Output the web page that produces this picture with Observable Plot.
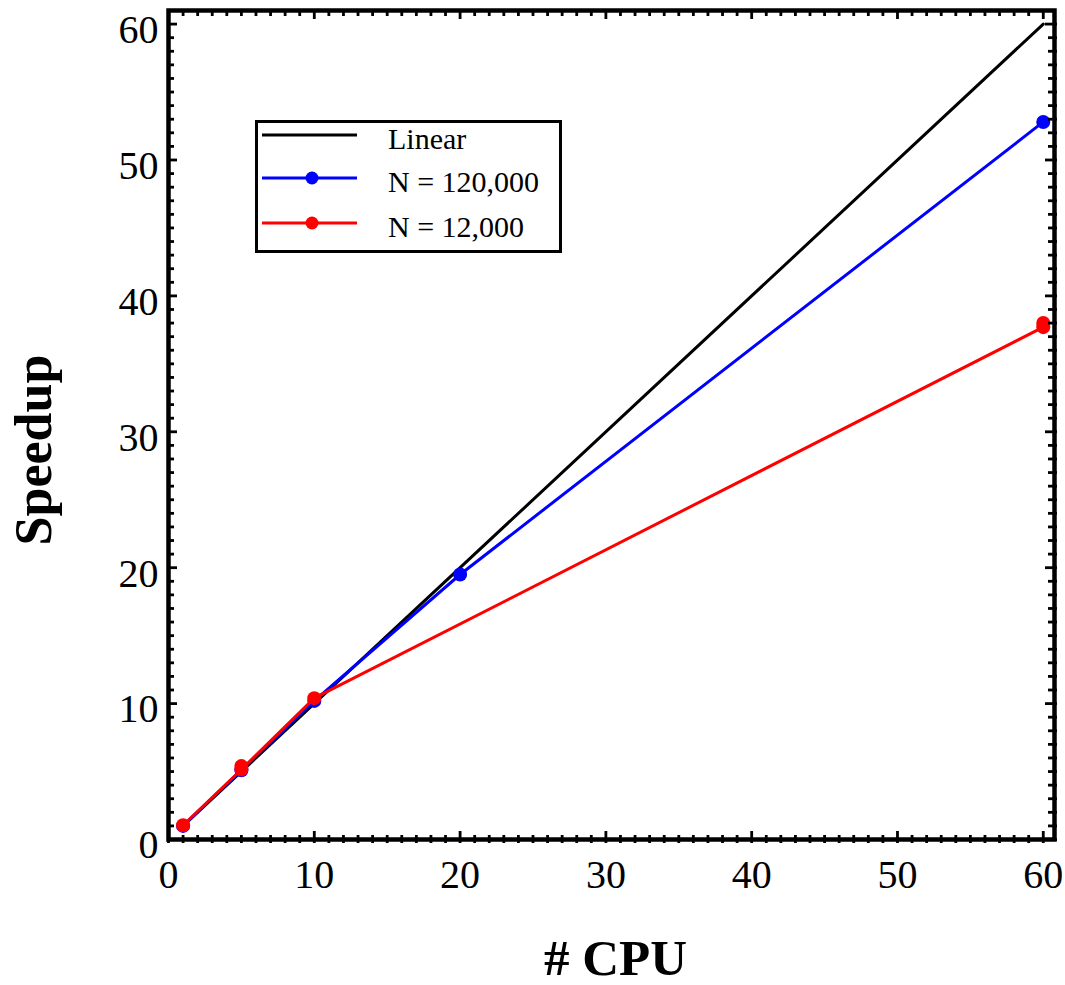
<!DOCTYPE html>
<html>
<head>
<meta charset="utf-8">
<script src="https://cdn.jsdelivr.net/npm/d3@7"></script>
<script src="https://cdn.jsdelivr.net/npm/@observablehq/plot@0.6"></script>
<style>
  html, body { margin: 0; padding: 0; background: #fff; }
  #wrap { position: relative; width: 1065px; height: 985px; }
  #legend { position: absolute; left: 0; top: 0; }
</style>
</head>
<body>
<div id="wrap"></div>
<script>
// ---- data ----
const linearCpu = [1, 60];
const linearSpeedup = [1, 60];

const cpu120k = [1, 5, 10, 20, 60];
const speedup120k = [1.0, 5.1, 10.2, 19.5, 52.8];

const cpu12k = [1, 5, 10, 60];
const speedup12k = [1.05, 5.15, 10.4, 37.7];

// repeated measurements visible as overlapping markers
const cpu12kRepeat = [5, 60];
const speedup12kRepeat = [5.4, 38.0];

const xMajorTicks = [0, 10, 20, 30, 40, 50, 60];
const yMajorTicks = [0, 10, 20, 30, 40, 50, 60];
const minorTicks = d3.range(1, 61).filter(v => v % 10 !== 0);

const legendLabels = ["Linear", "N = 120,000", "N = 12,000"];
const legendColors = ["#000000", "#0000ff", "#ff0000"];
const legendMarkers = [false, true, true];

const xTitle = "# CPU";
const yTitle = "Speedup";

// ---- tables ----
const toRows = (xs, ys) => xs.map((x, i) => ({x, y: ys[i]}));
const linearRows = toRows(linearCpu, linearSpeedup);
const rows120k = toRows(cpu120k, speedup120k);
const rows12k = toRows(cpu12k, speedup12k);
const rows12kRep = toRows(cpu12kRepeat, speedup12kRepeat);

const W = 1065, H = 985;
const mL = 168, mR = 11, mT = 10, mB = 146;
const innerW = W - mL - mR, innerH = H - mT - mB;
const font = "Liberation Serif, Times New Roman, serif";
const tickW = 2.8;

const plot = Plot.plot({
  width: W,
  height: H,
  marginLeft: mL,
  marginRight: mR,
  marginTop: mT,
  marginBottom: mB,
  style: {fontFamily: font, background: "#fff", color: "#000"},
  x: {domain: [0, 60.77], axis: null},
  y: {domain: [0, 61], axis: null},
  marks: [
    // axis tick labels
    Plot.axisX(xMajorTicks, {anchor: "bottom", tickSize: 0, tickPadding: 20, fontSize: 40, label: null, tickFormat: d => String(d)}),
    Plot.axisY(yMajorTicks, {anchor: "left", tickSize: 0, tickPadding: 10, fontSize: 40, label: null, dy: 6, tickFormat: d => String(d)}),
    // data lines
    Plot.line(linearRows, {x: "x", y: "y", stroke: legendColors[0], strokeWidth: 3}),
    Plot.line(rows120k, {x: "x", y: "y", stroke: legendColors[1], strokeWidth: 3}),
    Plot.dot(rows120k, {x: "x", y: "y", r: 7, fill: legendColors[1]}),
    Plot.line(rows12k, {x: "x", y: "y", stroke: legendColors[2], strokeWidth: 3}),
    Plot.dot(rows12k, {x: "x", y: "y", r: 7, fill: legendColors[2]}),
    Plot.dot(rows12kRep, {x: "x", y: "y", r: 7, fill: legendColors[2]}),
    // inward ticks: bottom
    Plot.tickX(minorTicks, {x: d => d, insetTop: innerH - 4, insetBottom: -4, stroke: "#000", strokeWidth: tickW}),
    Plot.tickX(xMajorTicks, {x: d => d, insetTop: innerH - 8, insetBottom: -4, stroke: "#000", strokeWidth: tickW}),
    // top
    Plot.tickX(minorTicks, {x: d => d, insetBottom: innerH - 6, stroke: "#000", strokeWidth: tickW}),
    Plot.tickX(xMajorTicks, {x: d => d, insetBottom: innerH - 9, stroke: "#000", strokeWidth: tickW}),
    // left
    Plot.tickY(minorTicks, {y: d => d, insetRight: innerW - 6, stroke: "#000", strokeWidth: tickW}),
    Plot.tickY(yMajorTicks, {y: d => d, insetRight: innerW - 9, stroke: "#000", strokeWidth: tickW}),
    // right
    Plot.tickY(minorTicks, {y: d => d, insetLeft: innerW - 6, insetRight: -3, stroke: "#000", strokeWidth: tickW}),
    Plot.tickY(yMajorTicks, {y: d => d, insetLeft: innerW - 9, insetRight: -3, stroke: "#000", strokeWidth: tickW}),
    // frame
    Plot.frame({stroke: "#000", strokeWidth: 4.5}),
    // titles
    Plot.text([xTitle], {frameAnchor: "bottom", lineAnchor: "bottom", textAnchor: "middle", dy: 135, dx: 4, fontSize: 51, fontWeight: "bold", fill: "#000"}),
    Plot.text([yTitle], {frameAnchor: "left", lineAnchor: "bottom", textAnchor: "middle", rotate: -90, dx: -118, dy: 25, fontSize: 52, fontWeight: "bold", fill: "#000"})
  ]
});

const wrap = document.getElementById("wrap");
wrap.appendChild(plot);

// ---- legend overlay ----
const lg = d3.select(wrap).append("svg")
  .attr("id", "legend")
  .attr("width", W).attr("height", H)
  .style("pointer-events", "none");

const box = {x: 256.5, y: 121.5, w: 304, h: 130};
lg.append("rect")
  .attr("x", box.x).attr("y", box.y)
  .attr("width", box.w).attr("height", box.h)
  .attr("fill", "#fff").attr("stroke", "#000").attr("stroke-width", 3);

const rowY = [135, 178, 223];
legendLabels.forEach((lab, i) => {
  const g = lg.append("g");
  g.append("line")
    .attr("x1", 262).attr("x2", 357)
    .attr("y1", rowY[i]).attr("y2", rowY[i])
    .attr("stroke", legendColors[i]).attr("stroke-width", 3);
  if (legendMarkers[i]) {
    g.append("circle").attr("cx", 312).attr("cy", rowY[i]).attr("r", 6.5).attr("fill", legendColors[i]);
  }
  g.append("text")
    .attr("x", 388).attr("y", rowY[i] + 14)
    .attr("font-family", font).attr("font-size", 30)
    .attr("fill", "#000")
    .text(lab);
});
</script>
</body>
</html>
